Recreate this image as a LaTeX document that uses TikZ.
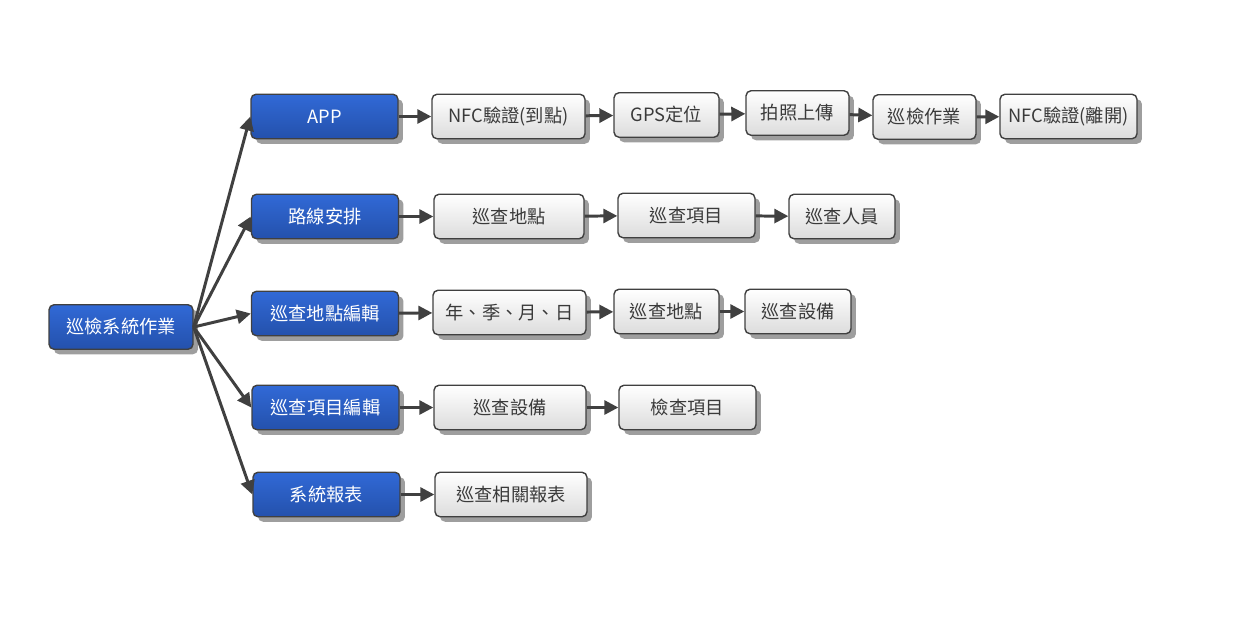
\documentclass[tikz,border=0pt]{standalone}
\usepackage{fontspec}
\newfontfamily\cjk{Noto Sans CJK TC}
\usetikzlibrary{arrows.meta}
\usetikzlibrary{shadows}

\definecolor{bluetop}{HTML}{3169D6}
\definecolor{bluebot}{HTML}{2451AC}
\definecolor{greybot}{HTML}{DCDCDC}
\definecolor{edgegrey}{HTML}{404040}
\definecolor{textgrey}{HTML}{3A3A3A}

\tikzset{
  box/.style={draw=edgegrey, line width=0.8pt, rounded corners=0.1cm,
    minimum height=0.89cm, inner sep=0pt, font=\cjk\fontsize{10.4}{12}\selectfont,
    drop shadow={shadow xshift=0.1cm, shadow yshift=-0.1cm, fill=black!38, opacity=1}},
  bluebox/.style={box, top color=bluetop, bottom color=bluebot, text=white, minimum width=2.94cm},
  greybox/.style={box, top color=white, bottom color=greybot, text=textgrey},
  link/.style={draw=edgegrey, line width=1.7pt, -{Triangle[length=0.28cm,width=0.28cm]}}
}

\begin{document}
\begin{tikzpicture}[x=0.02cm, y=-0.02cm]
  \useasboundingbox (0,0) rectangle (1248,633);

  % root and first column
  \node[bluebox, minimum width=2.88cm] (root) at (121,327) {巡檢系統作業};
  \node[bluebox] (app) at (324.5,116.5) {APP};
  \node[bluebox] (route) at (325,216.5) {路線安排};
  \node[bluebox] (placeedit) at (325,313.5) {巡查地點編輯};
  \node[bluebox] (itemedit) at (325.5,407.5) {巡查項目編輯};
  \node[bluebox] (report) at (326.5,494.5) {系統報表};

  % APP row
  \node[greybox, minimum width=3.06cm] (nfcin) at (508.5,116.5) {NFC驗證(到點)};
  \node[greybox, minimum width=2.1cm] (gps) at (666.5,115) {GPS定位};
  \node[greybox, minimum width=2.06cm] (photo) at (797.5,113) {拍照上傳};
  \node[greybox, minimum width=2.06cm] (work) at (924.5,117) {巡檢作業};
  \node[greybox, minimum width=2.74cm] (nfcout) at (1068.5,116.5) {NFC驗證(離開)};

  % route row
  \node[greybox, minimum width=3cm] (rplace) at (509,216.5) {巡查地點};
  \node[greybox, minimum width=2.74cm] (ritem) at (686.5,215.5) {巡查項目};
  \node[greybox, minimum width=2.12cm] (rstaff) at (842,216.5) {巡查人員};

  % place edit row
  \node[greybox, minimum width=3.06cm] (period) at (509.5,312.5) {年、季、月、日};
  \node[greybox, minimum width=2.1cm] (pplace) at (666.5,311.5) {巡查地點};
  \node[greybox, minimum width=2.12cm] (pdevice) at (798,311.5) {巡查設備};

  % item edit row
  \node[greybox, minimum width=3.04cm] (idevice) at (510,407.5) {巡查設備};
  \node[greybox, minimum width=2.74cm] (icheck) at (687.5,407.5) {檢查項目};

  % report row
  \node[greybox, minimum width=3.04cm] (rlist) at (511,494.5) {巡查相關報表};

  \foreach \b in {app,route,placeedit,itemedit,report}
    \draw[link] (root.east) -- (\b.west);

  \draw[link] (app) -- (nfcin);
  \draw[link] (nfcin) -- (gps);
  \draw[link] (gps) -- (photo);
  \draw[link] (photo) -- (work);
  \draw[link] (work) -- (nfcout);

  \draw[link] (route) -- (rplace);
  \draw[link] (rplace) -- (ritem);
  \draw[link] (ritem) -- (rstaff);

  \draw[link] (placeedit) -- (period);
  \draw[link] (period) -- (pplace);
  \draw[link] (pplace) -- (pdevice);

  \draw[link] (itemedit) -- (idevice);
  \draw[link] (idevice) -- (icheck);

  \draw[link] (report) -- (rlist);
\end{tikzpicture}
\end{document}
